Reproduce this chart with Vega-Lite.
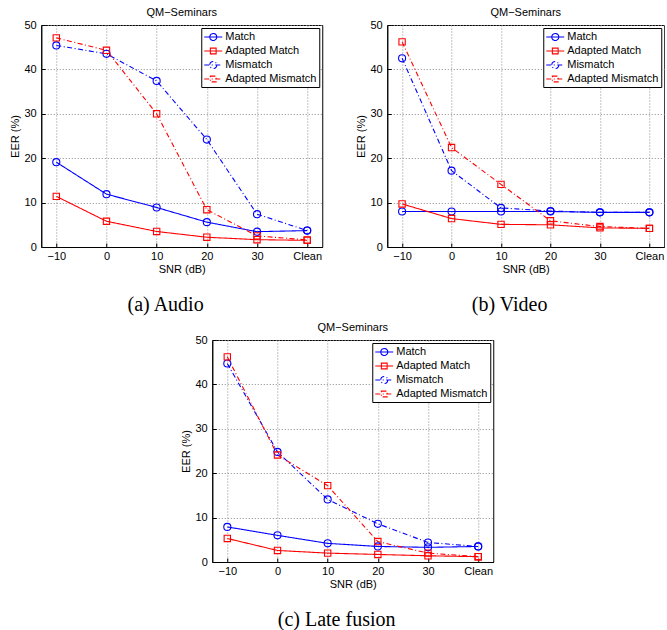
{
  "$schema": "https://vega.github.io/schema/vega-lite/v6.json",
  "background": "white",
  "padding": {"left": 8, "top": 6, "right": 0, "bottom": 0},
  "data": {"values": [
    {"panel": "a", "series": "Match", "snr": "−10", "eer": 19.1},
    {"panel": "a", "series": "Match", "snr": "0", "eer": 11.9},
    {"panel": "a", "series": "Match", "snr": "10", "eer": 8.9},
    {"panel": "a", "series": "Match", "snr": "20", "eer": 5.6},
    {"panel": "a", "series": "Match", "snr": "30", "eer": 3.45},
    {"panel": "a", "series": "Match", "snr": "Clean", "eer": 3.7},
    {"panel": "a", "series": "Adapted Match", "snr": "−10", "eer": 11.4},
    {"panel": "a", "series": "Adapted Match", "snr": "0", "eer": 5.8},
    {"panel": "a", "series": "Adapted Match", "snr": "10", "eer": 3.5},
    {"panel": "a", "series": "Adapted Match", "snr": "20", "eer": 2.2},
    {"panel": "a", "series": "Adapted Match", "snr": "30", "eer": 1.65},
    {"panel": "a", "series": "Adapted Match", "snr": "Clean", "eer": 1.5},
    {"panel": "a", "series": "Mismatch", "snr": "−10", "eer": 45.4},
    {"panel": "a", "series": "Mismatch", "snr": "0", "eer": 43.5},
    {"panel": "a", "series": "Mismatch", "snr": "10", "eer": 37.4},
    {"panel": "a", "series": "Mismatch", "snr": "20", "eer": 24.2},
    {"panel": "a", "series": "Mismatch", "snr": "30", "eer": 7.4},
    {"panel": "a", "series": "Mismatch", "snr": "Clean", "eer": 3.7},
    {"panel": "a", "series": "Adapted Mismatch", "snr": "−10", "eer": 47.1},
    {"panel": "a", "series": "Adapted Mismatch", "snr": "0", "eer": 44.3},
    {"panel": "a", "series": "Adapted Mismatch", "snr": "10", "eer": 30.0},
    {"panel": "a", "series": "Adapted Mismatch", "snr": "20", "eer": 8.4},
    {"panel": "a", "series": "Adapted Mismatch", "snr": "30", "eer": 2.5},
    {"panel": "a", "series": "Adapted Mismatch", "snr": "Clean", "eer": 1.6},
    {"panel": "b", "series": "Match", "snr": "−10", "eer": 8.0},
    {"panel": "b", "series": "Match", "snr": "0", "eer": 8.0},
    {"panel": "b", "series": "Match", "snr": "10", "eer": 8.0},
    {"panel": "b", "series": "Match", "snr": "20", "eer": 8.0},
    {"panel": "b", "series": "Match", "snr": "30", "eer": 7.8},
    {"panel": "b", "series": "Match", "snr": "Clean", "eer": 7.8},
    {"panel": "b", "series": "Adapted Match", "snr": "−10", "eer": 9.7},
    {"panel": "b", "series": "Adapted Match", "snr": "0", "eer": 6.4},
    {"panel": "b", "series": "Adapted Match", "snr": "10", "eer": 5.1},
    {"panel": "b", "series": "Adapted Match", "snr": "20", "eer": 5.0},
    {"panel": "b", "series": "Adapted Match", "snr": "30", "eer": 4.3},
    {"panel": "b", "series": "Adapted Match", "snr": "Clean", "eer": 4.2},
    {"panel": "b", "series": "Mismatch", "snr": "−10", "eer": 42.5},
    {"panel": "b", "series": "Mismatch", "snr": "0", "eer": 17.2},
    {"panel": "b", "series": "Mismatch", "snr": "10", "eer": 8.8},
    {"panel": "b", "series": "Mismatch", "snr": "20", "eer": 8.1},
    {"panel": "b", "series": "Mismatch", "snr": "30", "eer": 7.8},
    {"panel": "b", "series": "Mismatch", "snr": "Clean", "eer": 7.8},
    {"panel": "b", "series": "Adapted Mismatch", "snr": "−10", "eer": 46.2},
    {"panel": "b", "series": "Adapted Mismatch", "snr": "0", "eer": 22.4},
    {"panel": "b", "series": "Adapted Mismatch", "snr": "10", "eer": 14.1},
    {"panel": "b", "series": "Adapted Mismatch", "snr": "20", "eer": 5.9},
    {"panel": "b", "series": "Adapted Mismatch", "snr": "30", "eer": 4.6},
    {"panel": "b", "series": "Adapted Mismatch", "snr": "Clean", "eer": 4.2},
    {"panel": "c", "series": "Match", "snr": "−10", "eer": 7.9},
    {"panel": "c", "series": "Match", "snr": "0", "eer": 6.0},
    {"panel": "c", "series": "Match", "snr": "10", "eer": 4.2},
    {"panel": "c", "series": "Match", "snr": "20", "eer": 3.5},
    {"panel": "c", "series": "Match", "snr": "30", "eer": 3.3},
    {"panel": "c", "series": "Match", "snr": "Clean", "eer": 3.5},
    {"panel": "c", "series": "Adapted Match", "snr": "−10", "eer": 5.3},
    {"panel": "c", "series": "Adapted Match", "snr": "0", "eer": 2.6},
    {"panel": "c", "series": "Adapted Match", "snr": "10", "eer": 2.0},
    {"panel": "c", "series": "Adapted Match", "snr": "20", "eer": 1.7},
    {"panel": "c", "series": "Adapted Match", "snr": "30", "eer": 1.4},
    {"panel": "c", "series": "Adapted Match", "snr": "Clean", "eer": 1.2},
    {"panel": "c", "series": "Mismatch", "snr": "−10", "eer": 44.7},
    {"panel": "c", "series": "Mismatch", "snr": "0", "eer": 24.8},
    {"panel": "c", "series": "Mismatch", "snr": "10", "eer": 14.1},
    {"panel": "c", "series": "Mismatch", "snr": "20", "eer": 8.6},
    {"panel": "c", "series": "Mismatch", "snr": "30", "eer": 4.4},
    {"panel": "c", "series": "Mismatch", "snr": "Clean", "eer": 3.5},
    {"panel": "c", "series": "Adapted Mismatch", "snr": "−10", "eer": 46.2},
    {"panel": "c", "series": "Adapted Mismatch", "snr": "0", "eer": 24.1},
    {"panel": "c", "series": "Adapted Mismatch", "snr": "10", "eer": 17.2},
    {"panel": "c", "series": "Adapted Mismatch", "snr": "20", "eer": 4.6},
    {"panel": "c", "series": "Adapted Mismatch", "snr": "30", "eer": 2.0},
    {"panel": "c", "series": "Adapted Mismatch", "snr": "Clean", "eer": 1.2}
  ]},
  "config": {
    "font": "Liberation Sans",
    "view": {"stroke": "black", "strokeWidth": 1},
    "axis": {
      "labelFont": "Liberation Sans", "labelFontSize": 11, "labelColor": "black",
      "titleFont": "Liberation Sans", "titleFontSize": 11, "titleFontWeight": "normal", "titleColor": "black",
      "domainColor": "black", "tickColor": "black", "tickSize": -4, "labelPadding": 9,
      "grid": true, "gridColor": "#8a8a8a", "gridDash": [1, 2], "gridOpacity": 1, "gridWidth": 1
    },
    "axisX": {"labelPadding": 7, "titlePadding": 2, "labelAngle": 0},
    "axisY": {"titlePadding": 4},
    "title": {"font": "Liberation Sans", "fontSize": 11, "fontWeight": "normal", "color": "black", "offset": 1},
    "legend": {
      "title": null, "orient": "top-right", "offset": 3, "padding": 2,
      "strokeColor": "black", "fillColor": "white", "cornerRadius": 0,
      "labelFont": "Liberation Sans", "labelFontSize": 11, "labelColor": "black", "labelOffset": 8, "labelLimit": 0,
      "symbolSize": 144, "symbolStrokeWidth": 1.1, "rowPadding": 1
    }
  },
  "resolve": {"scale": {"color": "independent", "strokeDash": "independent"}, "legend": {"color": "independent"}},
  "spacing": 6,
  "center": true,
  "vconcat": [
    {
      "hconcat": [
        {
          "title": {"text": "(a) Audio", "orient": "bottom", "anchor": "middle", "frame": "bounds", "font": "Liberation Serif", "fontSize": 20, "fontWeight": "normal", "offset": 20},
          "resolve": {"scale": {"color": "independent", "strokeDash": "independent"}, "legend": {"color": "independent"}},
          "vconcat": [
            {
              "width": 281, "height": 222,
              "title": {"text": "QM−Seminars"},
              "transform": [{"filter": "datum.panel === 'a'"}],
              "encoding": {
                "x": {"field": "snr", "type": "ordinal", "sort": ["−10", "0", "10", "20", "30", "Clean"], "scale": {"type": "point", "padding": 0.3}, "axis": {"title": "SNR (dB)"}},
                "y": {"field": "eer", "type": "quantitative", "scale": {"domain": [0, 50], "nice": false}, "axis": {"title": "EER (%)", "values": [0, 10, 20, 30, 40, 50]}}
              },
              "layer": [
                {
                  "mark": {"type": "line", "strokeWidth": 1.1},
                  "encoding": {
                    "color": {"field": "series", "type": "nominal", "scale": {"domain": ["Match", "Adapted Match", "Mismatch", "Adapted Mismatch"], "range": ["#0000ff", "#ff0000", "#0000ff", "#ff0000"]},
                      "legend": {"encode": {"symbols": {"update": {
                        "shape": {"signal": "indexof(datum.value,'Adapted') === 0 ? 'M-1,0L2,0M0.02,-0.48L0.98,-0.48L0.98,0.48L0.02,0.48Z' : 'M-1,0L2,0M1.083,0A0.583,0.583,0,1,1,-0.083,0A0.583,0.583,0,1,1,1.083,0'"},
                        "strokeDash": {"signal": "indexof(datum.value,'Mismatch') >= 0 ? [3,2] : [1,0]"},
                        "fill": {"value": "transparent"}}}}}},
                    "strokeDash": {"field": "series", "type": "nominal", "scale": {"domain": ["Match", "Adapted Match", "Mismatch", "Adapted Mismatch"], "range": [[1, 0], [1, 0], [5, 2.5, 1, 2.5], [5, 2.5, 1, 2.5]]}, "legend": null}
                  }
                },
                {
                  "transform": [{"filter": "indexof(datum.series,'Adapted') < 0"}],
                  "mark": {"type": "point", "shape": "circle", "size": 50, "filled": false, "strokeWidth": 1.1, "opacity": 1},
                  "encoding": {"color": {"field": "series", "type": "nominal", "scale": {"domain": ["Match", "Adapted Match", "Mismatch", "Adapted Mismatch"], "range": ["#0000ff", "#ff0000", "#0000ff", "#ff0000"]}, "legend": null}}
                },
                {
                  "transform": [{"filter": "indexof(datum.series,'Adapted') === 0"}],
                  "mark": {"type": "point", "shape": "square", "size": 40, "filled": false, "strokeWidth": 1.1, "opacity": 1},
                  "encoding": {"color": {"field": "series", "type": "nominal", "scale": {"domain": ["Match", "Adapted Match", "Mismatch", "Adapted Mismatch"], "range": ["#0000ff", "#ff0000", "#0000ff", "#ff0000"]}, "legend": null}}
                }
              ]
            }
          ]
        },
        {
          "title": {"text": "(b) Video", "orient": "bottom", "anchor": "middle", "frame": "bounds", "font": "Liberation Serif", "fontSize": 20, "fontWeight": "normal", "offset": 20},
          "resolve": {"scale": {"color": "independent", "strokeDash": "independent"}, "legend": {"color": "independent"}},
          "vconcat": [
            {
              "width": 277, "height": 222,
              "title": {"text": "QM−Seminars"},
              "transform": [{"filter": "datum.panel === 'b'"}],
              "encoding": {
                "x": {"field": "snr", "type": "ordinal", "sort": ["−10", "0", "10", "20", "30", "Clean"], "scale": {"type": "point", "padding": 0.3}, "axis": {"title": "SNR (dB)"}},
                "y": {"field": "eer", "type": "quantitative", "scale": {"domain": [0, 50], "nice": false}, "axis": {"title": "EER (%)", "values": [0, 10, 20, 30, 40, 50]}}
              },
              "layer": [
                {
                  "mark": {"type": "line", "strokeWidth": 1.1},
                  "encoding": {
                    "color": {"field": "series", "type": "nominal", "scale": {"domain": ["Match", "Adapted Match", "Mismatch", "Adapted Mismatch"], "range": ["#0000ff", "#ff0000", "#0000ff", "#ff0000"]},
                      "legend": {"encode": {"symbols": {"update": {
                        "shape": {"signal": "indexof(datum.value,'Adapted') === 0 ? 'M-1,0L2,0M0.02,-0.48L0.98,-0.48L0.98,0.48L0.02,0.48Z' : 'M-1,0L2,0M1.083,0A0.583,0.583,0,1,1,-0.083,0A0.583,0.583,0,1,1,1.083,0'"},
                        "strokeDash": {"signal": "indexof(datum.value,'Mismatch') >= 0 ? [3,2] : [1,0]"},
                        "fill": {"value": "transparent"}}}}}},
                    "strokeDash": {"field": "series", "type": "nominal", "scale": {"domain": ["Match", "Adapted Match", "Mismatch", "Adapted Mismatch"], "range": [[1, 0], [1, 0], [5, 2.5, 1, 2.5], [5, 2.5, 1, 2.5]]}, "legend": null}
                  }
                },
                {
                  "transform": [{"filter": "indexof(datum.series,'Adapted') < 0"}],
                  "mark": {"type": "point", "shape": "circle", "size": 50, "filled": false, "strokeWidth": 1.1, "opacity": 1},
                  "encoding": {"color": {"field": "series", "type": "nominal", "scale": {"domain": ["Match", "Adapted Match", "Mismatch", "Adapted Mismatch"], "range": ["#0000ff", "#ff0000", "#0000ff", "#ff0000"]}, "legend": null}}
                },
                {
                  "transform": [{"filter": "indexof(datum.series,'Adapted') === 0"}],
                  "mark": {"type": "point", "shape": "square", "size": 40, "filled": false, "strokeWidth": 1.1, "opacity": 1},
                  "encoding": {"color": {"field": "series", "type": "nominal", "scale": {"domain": ["Match", "Adapted Match", "Mismatch", "Adapted Mismatch"], "range": ["#0000ff", "#ff0000", "#0000ff", "#ff0000"]}, "legend": null}}
                }
              ]
            }
          ]
        }
      ],
      "spacing": 31,
      "resolve": {"scale": {"color": "independent", "strokeDash": "independent"}, "legend": {"color": "independent"}}
    },
    {
      "title": {"text": "(c) Late fusion", "orient": "bottom", "anchor": "middle", "frame": "bounds", "font": "Liberation Serif", "fontSize": 20, "fontWeight": "normal", "offset": 20},
      "resolve": {"scale": {"color": "independent", "strokeDash": "independent"}, "legend": {"color": "independent"}},
      "vconcat": [
        {
          "width": 281, "height": 222,
          "title": {"text": "QM−Seminars"},
          "transform": [{"filter": "datum.panel === 'c'"}],
          "encoding": {
            "x": {"field": "snr", "type": "ordinal", "sort": ["−10", "0", "10", "20", "30", "Clean"], "scale": {"type": "point", "padding": 0.3}, "axis": {"title": "SNR (dB)"}},
            "y": {"field": "eer", "type": "quantitative", "scale": {"domain": [0, 50], "nice": false}, "axis": {"title": "EER (%)", "values": [0, 10, 20, 30, 40, 50]}}
          },
          "layer": [
            {
              "mark": {"type": "line", "strokeWidth": 1.1},
              "encoding": {
                "color": {"field": "series", "type": "nominal", "scale": {"domain": ["Match", "Adapted Match", "Mismatch", "Adapted Mismatch"], "range": ["#0000ff", "#ff0000", "#0000ff", "#ff0000"]},
                  "legend": {"encode": {"symbols": {"update": {
                    "shape": {"signal": "indexof(datum.value,'Adapted') === 0 ? 'M-1,0L2,0M0.02,-0.48L0.98,-0.48L0.98,0.48L0.02,0.48Z' : 'M-1,0L2,0M1.083,0A0.583,0.583,0,1,1,-0.083,0A0.583,0.583,0,1,1,1.083,0'"},
                    "strokeDash": {"signal": "indexof(datum.value,'Mismatch') >= 0 ? [3,2] : [1,0]"},
                    "fill": {"value": "transparent"}}}}}},
                "strokeDash": {"field": "series", "type": "nominal", "scale": {"domain": ["Match", "Adapted Match", "Mismatch", "Adapted Mismatch"], "range": [[1, 0], [1, 0], [5, 2.5, 1, 2.5], [5, 2.5, 1, 2.5]]}, "legend": null}
              }
            },
            {
              "transform": [{"filter": "indexof(datum.series,'Adapted') < 0"}],
              "mark": {"type": "point", "shape": "circle", "size": 50, "filled": false, "strokeWidth": 1.1, "opacity": 1},
              "encoding": {"color": {"field": "series", "type": "nominal", "scale": {"domain": ["Match", "Adapted Match", "Mismatch", "Adapted Mismatch"], "range": ["#0000ff", "#ff0000", "#0000ff", "#ff0000"]}, "legend": null}}
            },
            {
              "transform": [{"filter": "indexof(datum.series,'Adapted') === 0"}],
              "mark": {"type": "point", "shape": "square", "size": 40, "filled": false, "strokeWidth": 1.1, "opacity": 1},
              "encoding": {"color": {"field": "series", "type": "nominal", "scale": {"domain": ["Match", "Adapted Match", "Mismatch", "Adapted Mismatch"], "range": ["#0000ff", "#ff0000", "#0000ff", "#ff0000"]}, "legend": null}}
            }
          ]
        }
      ]
    }
  ]
}
